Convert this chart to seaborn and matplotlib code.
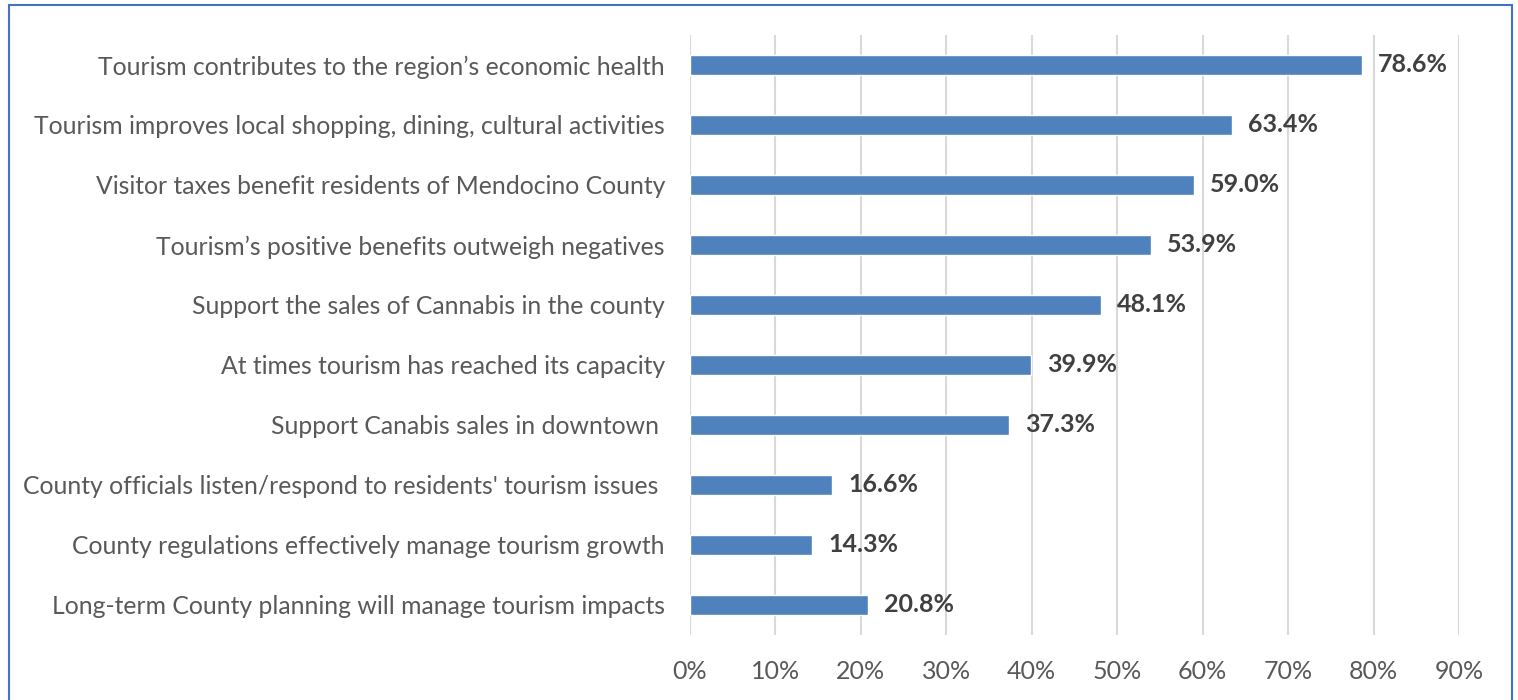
import matplotlib
matplotlib.use('Agg')
import matplotlib.pyplot as plt
from matplotlib.patches import Rectangle
from matplotlib.ticker import FuncFormatter
import pandas as pd
import seaborn as sns

# survey statements, top to bottom as shown
statements = [
    "Tourism contributes to the region\u2019s economic health",
    "Tourism improves local shopping, dining, cultural activities",
    "Visitor taxes benefit residents of Mendocino County",
    "Tourism\u2019s positive benefits outweigh negatives",
    "Support the sales of Cannabis in the county",
    "At times tourism has reached its capacity",
    "Support Canabis sales in downtown ",
    "County officials listen/respond to residents' tourism issues ",
    "County regulations effectively manage tourism growth",
    "Long-term County planning will manage tourism impacts",
]
agree_share = [0.786, 0.634, 0.590, 0.539, 0.481, 0.399, 0.373, 0.166, 0.143, 0.208]
x_ticks = [0.0, 0.1, 0.2, 0.3, 0.4, 0.5, 0.6, 0.7, 0.8, 0.9]

df = pd.DataFrame({'statement': statements, 'share': agree_share})

sns.set_theme(style='white')
plt.rcParams['font.family'] = ['Lato', 'DejaVu Sans']

fig = plt.figure(figsize=(15.18, 7), dpi=100)
ax = fig.add_axes([690 / 1518, 1 - 635 / 700, (1459 - 690) / 1518, 600 / 700])

sns.barplot(data=df, x='share', y='statement', color='#4F81BD', saturation=1,
            width=0.34, orient='h', ax=ax, zorder=3)

for i, v in enumerate(agree_share):
    ax.text(v + 0.019, i, f"{v * 100:.1f}%", va='center', ha='left',
            fontsize=18, fontweight='bold', color='#404040')

ax.set_xlim(0, 0.9)
ax.set_ylim(9.5, -0.5)
ax.set_xticks(x_ticks)
ax.xaxis.set_major_formatter(FuncFormatter(lambda v, p: f"{v * 100:.0f}%"))
ax.grid(axis='x', color='#D9D9D9', linewidth=1.5, zorder=0)
ax.grid(axis='y', visible=False)
for s in ax.spines.values():
    s.set_visible(False)
ax.tick_params(axis='x', length=0, pad=18, labelsize=18, labelcolor='#595959')
ax.tick_params(axis='y', length=0, pad=18, labelsize=17.8, labelcolor='#595959')
ax.set_xlabel('')
ax.set_ylabel('')

# outer chart border
fig.patches.append(Rectangle((9 / 1518, -0.05), (1512 - 9) / 1518, 1.05 - 5 / 700,
                             transform=fig.transFigure, fill=False,
                             edgecolor='#4472C4', linewidth=1.5))

fig.savefig('out.png', dpi=100)
